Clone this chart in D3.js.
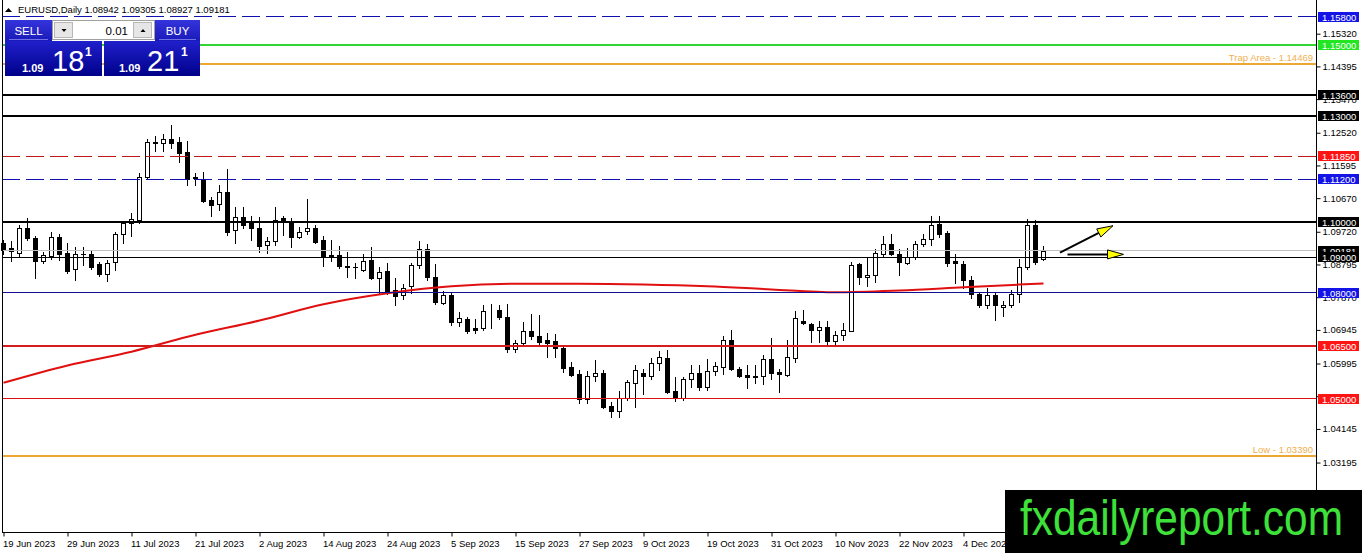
<!DOCTYPE html>
<html>
<head>
<meta charset="utf-8">
<script src="https://cdn.jsdelivr.net/npm/d3@7"></script>
<style>
html, body { margin: 0; padding: 0; background: #fff; overflow: hidden; }
svg { display: block; font-family: "Liberation Sans", Arial, sans-serif; }
</style>
</head>
<body>
<svg id="chart" width="1362" height="553"></svg>
<script>

// daily candles, 19 Jun 2023 .. 18 Dec 2023 (one per weekday)
let open = [1.0939,1.0925,1.0912,1.0982,1.0954,1.0889,1.0904,1.0958,1.0911,1.0866,
    1.0910,1.0910,1.0880,1.0853,1.0886,1.0966,1.0997,1.1005,1.1127,1.1225,
    1.1224,1.1234,1.1226,1.1197,1.1127,1.1121,1.1062,1.1050,1.1085,1.0976,
    1.1013,1.0997,1.0982,1.0935,1.0945,1.1010,1.1003,1.0956,1.0974,1.0983,
    1.0948,1.0906,1.0906,1.0874,1.0872,1.0863,1.0891,1.0840,1.0860,1.0806,
    1.0792,1.0818,1.0878,1.0922,1.0843,1.0770,1.0793,1.0718,1.0725,1.0700,
    1.0700,1.0750,1.0752,1.0732,1.0641,1.0657,1.0691,1.0677,1.0665,1.0663,
    1.0642,1.0590,1.0570,1.0500,1.0564,1.0572,1.0479,1.0465,1.0503,1.0543,
    1.0572,1.0565,1.0602,1.0616,1.0522,1.0503,1.0556,1.0574,1.0533,1.0578,
    1.0590,1.0665,1.0585,1.0568,1.0565,1.0565,1.0613,1.0575,1.0567,1.0616,
    1.0720,1.0712,1.0695,1.0704,1.0662,1.0680,1.0692,1.0880,1.0843,1.0850,
    1.0910,1.0937,1.0909,1.0885,1.0902,1.0938,1.0952,1.0995,1.0968,1.0888,
    1.0880,1.0835,1.0795,1.0765,1.0793,1.0758,1.0764,1.0797,1.0872,1.0991,
    1.08942];
let high = [1.0950,1.0945,1.0990,1.1012,1.0960,1.0914,1.0970,1.0965,1.0939,1.0928,
    1.0930,1.0920,1.0886,1.0893,1.0970,1.1002,1.1025,1.1138,1.1233,1.1243,
    1.1247,1.1274,1.1240,1.1230,1.1138,1.1142,1.1070,1.1104,1.1149,1.1042,
    1.1042,1.1016,1.1015,1.0958,1.1043,1.1017,1.1012,1.0985,1.1064,1.0990,
    1.0960,1.0950,1.0931,1.0914,1.0883,1.0910,1.0929,1.0872,1.0885,1.0840,
    1.0824,1.0883,1.0946,1.0937,1.0882,1.0805,1.0800,1.0745,1.0732,1.0725,
    1.0766,1.0768,1.0765,1.0768,1.0667,1.0718,1.0740,1.0737,1.0685,1.0683,
    1.0650,1.0605,1.0580,1.0577,1.0609,1.0580,1.0490,1.0522,1.0553,1.0596,
    1.0585,1.0615,1.0635,1.0639,1.0560,1.0562,1.0595,1.0594,1.0613,1.0604,
    1.0676,1.0695,1.0590,1.0594,1.0595,1.0624,1.0673,1.0585,1.0665,1.0747,
    1.0750,1.0715,1.0720,1.0720,1.0691,1.0715,1.0887,1.0885,1.0897,1.0922,
    1.0960,1.0965,1.0922,1.0927,1.0947,1.0965,1.1017,1.1017,1.0975,1.0910,
    1.0890,1.0848,1.0800,1.0814,1.0800,1.0777,1.0806,1.0896,1.1009,1.1004,
    1.09305];
let low = [1.0910,1.0890,1.0900,1.0950,1.0841,1.0885,1.0896,1.0891,1.0854,1.0835,
    1.0878,1.0867,1.0847,1.0833,1.0863,1.0940,1.0960,1.0998,1.1121,1.1200,
    1.1200,1.1209,1.1168,1.1105,1.1105,1.1055,1.1016,1.1034,1.0962,1.0940,
    1.0984,1.0950,1.0915,1.0912,1.0935,1.0963,1.0930,1.0954,1.0965,1.0940,
    1.0875,1.0890,1.0869,1.0843,1.0840,1.0860,1.0838,1.0798,1.0797,1.0766,
    1.0782,1.0799,1.0870,1.0835,1.0767,1.0767,1.0707,1.0705,1.0686,1.0686,
    1.0695,1.0700,1.0725,1.0632,1.0632,1.0650,1.0670,1.0655,1.0617,1.0617,
    1.0576,1.0565,1.0488,1.0488,1.0550,1.0475,1.0448,1.0448,1.0495,1.0477,
    1.0514,1.0556,1.0580,1.0515,1.0494,1.0495,1.0532,1.0524,1.0524,1.0566,
    1.0570,1.0580,1.0560,1.0529,1.0545,1.0541,1.0555,1.0518,1.0564,1.0603,
    1.0710,1.0659,1.0660,1.0655,1.0655,1.0665,1.0690,1.0825,1.0820,1.0830,
    1.0903,1.0905,1.0851,1.0880,1.0895,1.0931,1.0935,1.0958,1.0875,1.0828,
    1.0813,1.0784,1.0760,1.0757,1.0723,1.0733,1.0760,1.0772,1.0868,1.0881,
    1.08927];
let close = [1.0920,1.0918,1.0982,1.0954,1.0889,1.0905,1.0956,1.0910,1.0860,1.0910,
    1.0908,1.0872,1.0853,1.0885,1.0966,1.0996,1.1008,1.1127,1.1225,1.1223,
    1.1234,1.1224,1.1195,1.1121,1.1124,1.1058,1.1048,1.1085,1.0971,1.1013,
    1.0990,1.0982,1.0932,1.0945,1.1005,1.1002,1.0956,1.0972,1.0983,1.0944,
    1.0903,1.0904,1.0874,1.0872,1.0871,1.0888,1.0840,1.0858,1.0804,1.0790,
    1.0812,1.0879,1.0922,1.0843,1.0772,1.0793,1.0717,1.0728,1.0690,1.0694,
    1.0748,1.0752,1.0730,1.0641,1.0658,1.0690,1.0677,1.0660,1.0658,1.0643,
    1.0588,1.0568,1.0500,1.0565,1.0573,1.0477,1.0465,1.0503,1.0548,1.0582,
    1.0565,1.0600,1.0618,1.0520,1.0503,1.0555,1.0574,1.0532,1.0578,1.0592,
    1.0667,1.0585,1.0563,1.0562,1.0562,1.0611,1.0574,1.0569,1.0618,1.0727,
    1.0713,1.0695,1.0704,1.0662,1.0681,1.0695,1.0879,1.0843,1.0850,1.0912,
    1.0937,1.0909,1.0886,1.0902,1.0938,1.0952,1.0991,1.0965,1.0885,1.0883,
    1.0835,1.0797,1.0764,1.0792,1.0765,1.0765,1.0797,1.0872,1.0991,1.0886,
    1.09181];

// moving average read at every 8th bar and at the last bar
let maBars = [0, 8, 16, 24, 32, 40, 48, 56, 64, 72, 80, 88, 96, 104, 112, 120, 130];
let maValues = [1.0545, 1.0594, 1.0633, 1.0681, 1.0721, 1.0767, 1.0798, 1.0818, 1.0825,
    1.0825, 1.0823, 1.0818, 1.0809, 1.0801, 1.0806, 1.0815, 1.0826];

// time axis labels, one every 8 bars
let dateBars = [0, 8, 16, 24, 32, 40, 48, 56, 64, 72, 80, 88, 96, 104, 112, 120];
let dateLabels = ["19 Jun 2023", "29 Jun 2023", "11 Jul 2023", "21 Jul 2023", "2 Aug 2023",
    "14 Aug 2023", "24 Aug 2023", "5 Sep 2023", "15 Sep 2023", "27 Sep 2023", "9 Oct 2023",
    "19 Oct 2023", "31 Oct 2023", "10 Nov 2023", "22 Nov 2023", "4 Dec 2023"];

// price axis labels
let priceTicks = [1.15320, 1.14395, 1.13470, 1.12520, 1.11595, 1.10670, 1.09720, 1.08795,
    1.07870, 1.06945, 1.05995, 1.05070, 1.04145, 1.03195];

// horizontal levels drawn on the chart
let levelPrices = [1.158, 1.15, 1.14469, 1.136, 1.13, 1.1185, 1.112, 1.10, 1.09181, 1.09, 1.08, 1.065, 1.05, 1.0339];
let levelNotes = {"1.14469": "Trap Area - 1.14469", "1.0339": "Low - 1.03390"};

// arrows (bar position, price)
let arrowFrom = [[132.06, 1.09128], [133.0, 1.09080]];
let arrowTo = [[138.69, 1.09891], [140.0, 1.09080]];

let titleSymbol = "EURUSD,Daily";
let titleOHLC = [1.08942, 1.09305, 1.08927, 1.09181];
let sellQuote = ["1.09", "18", "1"];
let buyQuote = ["1.09", "21", "1"];
let lotSize = "0.01";
let watermark = "fxdailyreport.com";


const levelStyle = {
    "1.158":   {color: "#1010b0", width: 1, dash: "18,6", box: "#1414e6"},
    "1.15":    {color: "#33d633", width: 2, dash: null, box: "#22e622"},
    "1.14469": {color: "#eda733", width: 2, dash: null, box: null},
    "1.136":   {color: "#000", width: 2, dash: null, box: "#000"},
    "1.13":    {color: "#000", width: 2, dash: null, box: "#000"},
    "1.1185":  {color: "#c01818", width: 1, dash: "18,6", box: "#ff1414"},
    "1.112":   {color: "#1010b0", width: 1, dash: "18,6", box: "#1414e6"},
    "1.1":     {color: "#000", width: 2, dash: null, box: "#000"},
    "1.09181": {color: "#c0c0c0", width: 1, dash: null, box: "#000"},
    "1.09":    {color: "#000", width: 1, dash: null, box: "#000"},
    "1.08":    {color: "#101090", width: 1, dash: null, box: "#1414e6"},
    "1.065":   {color: "#d41c1c", width: 2, dash: null, box: "#ff1414"},
    "1.05":    {color: "#e01010", width: 1, dash: null, box: "#ff1414"},
    "1.0339":  {color: "#eda733", width: 2, dash: null, box: null}
};

const svg = d3.select("#chart");
const left = 2, right = 1316, bottom = 532;

const x = d3.scaleLinear().domain([0, 130]).range([3.5, 1043.5]);
const y = d3.scaleLinear().domain([1.16216, 1.01231]).range([2, 532]);

// snap a coordinate so a line of width w lands on whole pixels
function snap(v, w) {
    return (w % 2 === 1) ? Math.round(v - 0.5) + 0.5 : Math.round(v);
}

svg.append("rect").attr("width", 1362).attr("height", 553).attr("fill", "#fff");

// ---- candles
let bars = open.map((o, i) => ({i: i, o: o, h: high[i], l: low[i], c: close[i]}));

let candles = svg.append("g");
candles.selectAll("line")
    .data(bars).enter().append("line")
    .attr("x1", d => x(d.i))
    .attr("x2", d => x(d.i))
    .attr("y1", d => Math.round(y(d.h)))
    .attr("y2", d => Math.round(y(d.l)) + 1)
    .attr("stroke", "#000")
    .attr("stroke-width", 1);

candles.selectAll("rect")
    .data(bars).enter().append("rect")
    .attr("x", d => d.c >= d.o ? x(d.i) - 2 : x(d.i) - 2.5)
    .attr("width", d => d.c >= d.o ? 4 : 5)
    .attr("y", d => {
        let t = Math.round(y(Math.max(d.o, d.c)));
        return d.c >= d.o ? t + 0.5 : t;
    })
    .attr("height", d => {
        let t = Math.round(y(Math.max(d.o, d.c)));
        let b = Math.round(y(Math.min(d.o, d.c)));
        return d.c >= d.o ? Math.max(b - t, 0) : Math.max(b - t + 1, 1);
    })
    .attr("fill", d => d.c >= d.o ? "#fff" : "#000")
    .attr("stroke", d => d.c >= d.o ? "#000" : "none")
    .attr("stroke-width", 1);

// ---- moving average
let ma = maBars.map((b, k) => [b, maValues[k]]);
svg.append("path")
    .datum(ma)
    .attr("fill", "none")
    .attr("stroke", "#e01010")
    .attr("stroke-width", 2)
    .attr("d", d3.line().x(d => x(d[0])).y(d => y(d[1])).curve(d3.curveMonotoneX));

// ---- level lines
let levels = svg.append("g");
levelPrices.forEach(p => {
    let s = levelStyle[String(p)];
    let yy = snap(y(p), s.width);
    levels.append("line")
        .attr("x1", left).attr("x2", right)
        .attr("y1", yy).attr("y2", yy)
        .attr("stroke", s.color)
        .attr("stroke-width", s.width)
        .attr("stroke-dasharray", s.dash);
    let note = levelNotes[String(p)];
    if (note) {
        levels.append("text")
            .attr("x", right - 3).attr("y", yy - 3)
            .attr("text-anchor", "end")
            .attr("font-size", "9.5px")
            .attr("fill", "#f0b050")
            .text(note);
    }
});

// ---- arrows
let arrows = svg.append("g");
arrowFrom.forEach((a, k) => {
    let x0 = x(a[0]), y0 = y(a[1]);
    let x1 = x(arrowTo[k][0]), y1 = y(arrowTo[k][1]);
    let len = Math.hypot(x1 - x0, y1 - y0);
    let ux = (x1 - x0) / len, uy = (y1 - y0) / len;
    let headLen = 16, half = 4.5;
    let bx = x1 - ux * headLen, by = y1 - uy * headLen;
    arrows.append("line")
        .attr("x1", x0).attr("y1", y0)
        .attr("x2", bx).attr("y2", by)
        .attr("stroke", "#000").attr("stroke-width", 2);
    arrows.append("path")
        .attr("d", "M" + x1 + "," + y1 +
            "L" + (bx - uy * half) + "," + (by + ux * half) +
            "L" + (bx + uy * half) + "," + (by - ux * half) + "Z")
        .attr("fill", "#ffff00")
        .attr("stroke", "#000")
        .attr("stroke-width", 1);
});

// ---- frame
svg.append("line").attr("x1", left + 0.5).attr("x2", left + 0.5).attr("y1", 0).attr("y2", bottom + 1)
    .attr("stroke", "#000");
svg.append("line").attr("x1", left).attr("x2", right + 1).attr("y1", bottom + 0.5).attr("y2", bottom + 0.5)
    .attr("stroke", "#000");
svg.append("line").attr("x1", right + 0.5).attr("x2", right + 0.5).attr("y1", 0).attr("y2", bottom + 1)
    .attr("stroke", "#000");

// ---- price axis
let yAxis = d3.axisRight(y)
    .tickValues(priceTicks)
    .tickFormat(d3.format(".5f"))
    .tickSize(4)
    .tickSizeOuter(0)
    .tickPadding(2);
let gy = svg.append("g")
    .attr("transform", "translate(" + (right + 0.5) + ",0)")
    .call(yAxis);
gy.select(".domain").remove();
gy.selectAll("text").attr("font-size", "9.5px").attr("fill", "#000")
    .attr("font-family", "Liberation Sans, Arial, sans-serif");
gy.selectAll("line").attr("stroke", "#000");

// ---- time axis
let xAxis = d3.axisBottom(x)
    .tickValues(dateBars)
    .tickFormat((d, k) => dateLabels[k])
    .tickSize(4)
    .tickSizeOuter(0)
    .tickPadding(4);
let gx = svg.append("g")
    .attr("transform", "translate(0," + (bottom + 0.5) + ")")
    .call(xAxis);
gx.select(".domain").remove();
gx.selectAll("text")
    .attr("text-anchor", "start")
    .attr("dx", "-1")
    .attr("font-size", "9.5px")
    .attr("fill", "#000")
    .attr("font-family", "Liberation Sans, Arial, sans-serif");
gx.selectAll("line").attr("stroke", "#000");

// ---- level labels on the price axis
let tags = svg.append("g");
levelPrices.forEach(p => {
    let s = levelStyle[String(p)];
    if (!s.box) return;
    let yy = Math.round(y(p));
    tags.append("rect")
        .attr("x", right + 2).attr("y", yy - 5)
        .attr("width", 41).attr("height", 10)
        .attr("fill", s.box);
    tags.append("text")
        .attr("x", right + 6).attr("y", yy + 3.5)
        .attr("font-size", "9.5px")
        .attr("fill", "#fff")
        .text(d3.format(".5f")(p));
});

// ---- title
svg.append("path").attr("d", "M5,12 L8.5,8 L12,12 Z").attr("fill", "#000");
svg.append("text")
    .attr("x", 18).attr("y", 13)
    .attr("font-size", "9.5px")
    .attr("fill", "#000")
    .text(titleSymbol + "  " + titleOHLC.map(d3.format(".5f")).join(" "));

// ---- one click trading panel
let defs = svg.append("defs");
let g1 = defs.append("linearGradient").attr("id", "btnGrad").attr("x1", 0).attr("y1", 0).attr("x2", 0).attr("y2", 1);
g1.append("stop").attr("offset", "0%").attr("stop-color", "#3434dc");
g1.append("stop").attr("offset", "100%").attr("stop-color", "#1a1ab8");
let g2 = defs.append("linearGradient").attr("id", "quoteGrad").attr("x1", 0).attr("y1", 0).attr("x2", 0).attr("y2", 1);
g2.append("stop").attr("offset", "0%").attr("stop-color", "#2020cc");
g2.append("stop").attr("offset", "100%").attr("stop-color", "#00008a");

let panel = svg.append("g");
panel.append("rect").attr("x", 5).attr("y", 20).attr("width", 47).attr("height", 21).attr("fill", "url(#btnGrad)");
panel.append("rect").attr("x", 155).attr("y", 20).attr("width", 45).attr("height", 21).attr("fill", "url(#btnGrad)");
panel.append("line").attr("x1", 9).attr("x2", 48).attr("y1", 39.5).attr("y2", 39.5).attr("stroke", "#7070e8");
panel.append("line").attr("x1", 159).attr("x2", 196).attr("y1", 39.5).attr("y2", 39.5).attr("stroke", "#7070e8");
panel.append("text").attr("x", 28.5).attr("y", 35).attr("text-anchor", "middle")
    .attr("font-size", "11.5px").attr("fill", "#fff").text("SELL");
panel.append("text").attr("x", 177.5).attr("y", 35).attr("text-anchor", "middle")
    .attr("font-size", "11.5px").attr("fill", "#fff").text("BUY");

panel.append("rect").attr("x", 52.5).attr("y", 20.5).attr("width", 102).attr("height", 19)
    .attr("fill", "#fff").attr("stroke", "#a0a0a0");
panel.append("rect").attr("x", 54.5).attr("y", 22.5).attr("width", 18).attr("height", 15)
    .attr("fill", "#e6e6e6").attr("stroke", "#b8b8b8");
panel.append("rect").attr("x", 133.5).attr("y", 22.5).attr("width", 18).attr("height", 15)
    .attr("fill", "#e6e6e6").attr("stroke", "#b8b8b8");
panel.append("path").attr("d", "M61.5,29 L66.5,29 L64,32 Z").attr("fill", "#000");
panel.append("path").attr("d", "M140.5,32 L145.5,32 L143,29 Z").attr("fill", "#000");
panel.append("text").attr("x", 128).attr("y", 35).attr("text-anchor", "end")
    .attr("font-size", "11.5px").attr("fill", "#000").text(lotSize);

[[5, 97, sellQuote, 0], [104, 96, buyQuote, 99]].forEach(q => {
    let bx = q[0], off = q[3], txt = q[2];
    panel.append("rect").attr("x", bx).attr("y", 41).attr("width", q[1]).attr("height", 35)
        .attr("fill", "url(#quoteGrad)");
    panel.append("text").attr("x", 22 + off - (off ? 2 : 0)).attr("y", 72)
        .attr("font-size", "11px").attr("font-weight", "bold").attr("fill", "#fff").text(txt[0]);
    panel.append("text").attr("x", 52 + off - (off ? 4 : 0)).attr("y", 71)
        .attr("font-size", "29px").attr("fill", "#fff").text(txt[1]);
    panel.append("text").attr("x", 85 + off - (off ? 3 : 0)).attr("y", 56)
        .attr("font-size", "12px").attr("font-weight", "bold").attr("fill", "#fff").text(txt[2]);
});

// ---- watermark
svg.append("rect").attr("x", 1005).attr("y", 490).attr("width", 357).attr("height", 63).attr("fill", "#000");
svg.append("text")
    .attr("x", 1020).attr("y", 535)
    .attr("font-size", "50px")
    .attr("fill", "#3ee03a")
    .attr("textLength", 323)
    .attr("lengthAdjust", "spacingAndGlyphs")
    .text(watermark);

</script>
</body>
</html>
